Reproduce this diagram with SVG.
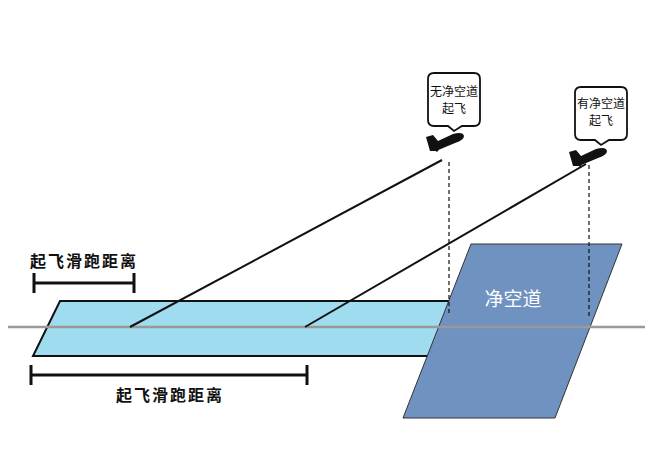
<svg xmlns="http://www.w3.org/2000/svg" width="662" height="463" viewBox="0 0 662 463">
<style>
.lbl{font-family:"Noto Sans CJK SC",sans-serif;font-size:16px;font-weight:bold;fill:#111;letter-spacing:2px}
.small{font-family:"Noto Sans CJK SC",sans-serif;font-size:12px;fill:#111}
.br{stroke:#111;stroke-width:3;fill:none}
.bub{fill:#fff;stroke:#111;stroke-width:1.8}
.plane{fill:#111}
</style>
<rect width="662" height="463" fill="#fff"/>
<g id="runway"><polygon points="60,301 470,301 450,356 33,356" fill="#9fdcef" stroke="#111" stroke-width="2"/></g>
<g id="clearway"><polygon points="471,244 622,244 555,418 403,418" fill="#6f92c0" stroke="#333" stroke-width="1"/>
<text x="513" y="306" text-anchor="middle" style="font-family:'Noto Sans CJK SC',sans-serif;font-size:19px;fill:#fff">净空道</text></g>
<g id="connectors" stroke="#111">
<line x1="8" y1="327" x2="645" y2="327" stroke="#999" stroke-width="2.5"/>
<line x1="130" y1="327" x2="442" y2="160" stroke-width="2"/>
<line x1="305" y1="327" x2="586" y2="164" stroke-width="2"/>
<line x1="449" y1="162" x2="449" y2="316" stroke-width="1.2" stroke-dasharray="4,3"/>
<line x1="589" y1="165" x2="589" y2="318" stroke-width="1.2" stroke-dasharray="4,3"/>
</g>
<g id="dist1"><path class="br" d="M34,273V293M34,283H134M134,273V293"/><text class="lbl" x="84" y="267" text-anchor="middle">起飞滑跑距离</text></g>
<g id="dist2"><path class="br" d="M31,365V385M31,375H307M307,365V385"/><text class="lbl" x="170" y="401" text-anchor="middle">起飞滑跑距离</text></g>
<g id="bubble1"><path class="bub" d="M434,73H474Q480,73 480,79V120Q480,126 474,126H462L454,131L448,126H434Q428,126 428,120V79Q428,73 434,73Z"/>
<text class="small" x="454" y="96" text-anchor="middle">无净空道</text><text class="small" x="454" y="113" text-anchor="middle">起飞</text></g>
<g id="plane1" class="plane"><path d="M426,137l7,-2 5,6 15,-7q10,-3 11,2 0,4 -9,7l-19,8 -6,0z M432,148l12,-4 -7,8z"/></g>
<g id="bubble2"><path class="bub" d="M581,87H621Q627,87 627,93V134Q627,140 621,140H609L601,145L595,140H581Q575,140 575,134V93Q575,87 581,87Z"/>
<text class="small" x="601" y="108" text-anchor="middle">有净空道</text><text class="small" x="601" y="125" text-anchor="middle">起飞</text></g>
<g id="plane2" class="plane"><path d="M569,152l7,-2 5,6 15,-7q10,-3 11,2 0,4 -9,7l-19,8 -6,0z M575,163l12,-4 -7,8z"/></g>
</svg>
